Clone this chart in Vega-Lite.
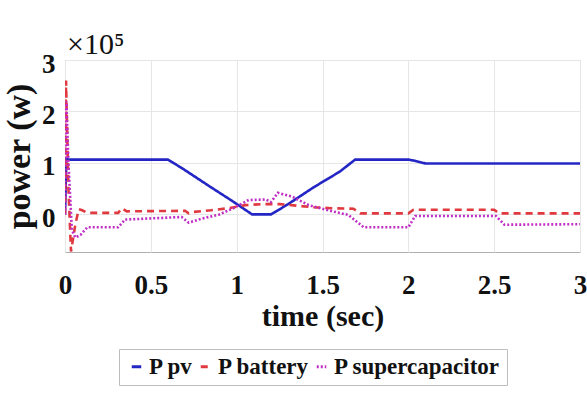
{
  "$schema": "https://vega.github.io/schema/vega-lite/v6.json",
  "autosize": {"type": "none"},
  "width": 515,
  "height": 192,
  "padding": {"left": 65, "top": 60, "right": 7, "bottom": 141},
  "background": "white",
  "title": {"text": "×10⁵", "anchor": "start", "frame": "group", "font": "Liberation Serif", "fontSize": 30, "fontWeight": "normal", "color": "#111", "offset": 4, "dx": 2, "dy": 14},
  "config": {
    "view": {"stroke": "#b0b0b0", "strokeWidth": 1},
    "axis": {"labelFont": "Liberation Serif", "labelFontWeight": "bold", "labelColor": "#111", "titleFont": "Liberation Serif", "titleFontWeight": "bold", "titleColor": "#111", "gridColor": "#e6e6e6", "domain": false, "ticks": false}
  },
  "data": {"values": [
    {"t": 0, "v": 0, "s": "P pv"},
    {"t": 0.008, "v": 1.07, "s": "P pv"},
    {"t": 0.03, "v": 1.065, "s": "P pv"},
    {"t": 0.6, "v": 1.065, "s": "P pv"},
    {"t": 0.69, "v": 0.88, "s": "P pv"},
    {"t": 0.84, "v": 0.55, "s": "P pv"},
    {"t": 0.97, "v": 0.27, "s": "P pv"},
    {"t": 1.09, "v": 0.0, "s": "P pv"},
    {"t": 1.2, "v": 0.0, "s": "P pv"},
    {"t": 1.3, "v": 0.2, "s": "P pv"},
    {"t": 1.45, "v": 0.53, "s": "P pv"},
    {"t": 1.6, "v": 0.83, "s": "P pv"},
    {"t": 1.69, "v": 1.065, "s": "P pv"},
    {"t": 2.0, "v": 1.065, "s": "P pv"},
    {"t": 2.04, "v": 1.04, "s": "P pv"},
    {"t": 2.1, "v": 0.99, "s": "P pv"},
    {"t": 3.0, "v": 0.99, "s": "P pv"},

    {"t": 0, "v": 0, "s": "P battery"},
    {"t": 0.006, "v": 2.6, "s": "P battery"},
    {"t": 0.02, "v": 0.5, "s": "P battery"},
    {"t": 0.035, "v": -0.72, "s": "P battery"},
    {"t": 0.06, "v": -0.2, "s": "P battery"},
    {"t": 0.08, "v": 0.1, "s": "P battery"},
    {"t": 0.1, "v": 0.08, "s": "P battery"},
    {"t": 0.13, "v": 0.03, "s": "P battery"},
    {"t": 0.31, "v": 0.03, "s": "P battery"},
    {"t": 0.33, "v": 0.12, "s": "P battery"},
    {"t": 0.36, "v": 0.06, "s": "P battery"},
    {"t": 0.7, "v": 0.07, "s": "P battery"},
    {"t": 0.72, "v": 0.02, "s": "P battery"},
    {"t": 0.75, "v": 0.05, "s": "P battery"},
    {"t": 0.85, "v": 0.08, "s": "P battery"},
    {"t": 0.95, "v": 0.12, "s": "P battery"},
    {"t": 1.05, "v": 0.18, "s": "P battery"},
    {"t": 1.15, "v": 0.2, "s": "P battery"},
    {"t": 1.25, "v": 0.2, "s": "P battery"},
    {"t": 1.35, "v": 0.17, "s": "P battery"},
    {"t": 1.45, "v": 0.14, "s": "P battery"},
    {"t": 1.55, "v": 0.12, "s": "P battery"},
    {"t": 1.68, "v": 0.11, "s": "P battery"},
    {"t": 1.72, "v": 0.02, "s": "P battery"},
    {"t": 2.0, "v": 0.02, "s": "P battery"},
    {"t": 2.03, "v": 0.09, "s": "P battery"},
    {"t": 2.5, "v": 0.09, "s": "P battery"},
    {"t": 2.53, "v": 0.02, "s": "P battery"},
    {"t": 3.0, "v": 0.02, "s": "P battery"},

    {"t": 0, "v": 0, "s": "P supercapacitor"},
    {"t": 0.008, "v": 2.2, "s": "P supercapacitor"},
    {"t": 0.02, "v": 1.0, "s": "P supercapacitor"},
    {"t": 0.04, "v": -0.3, "s": "P supercapacitor"},
    {"t": 0.06, "v": -0.45, "s": "P supercapacitor"},
    {"t": 0.09, "v": -0.4, "s": "P supercapacitor"},
    {"t": 0.13, "v": -0.25, "s": "P supercapacitor"},
    {"t": 0.31, "v": -0.25, "s": "P supercapacitor"},
    {"t": 0.35, "v": -0.1, "s": "P supercapacitor"},
    {"t": 0.68, "v": -0.05, "s": "P supercapacitor"},
    {"t": 0.72, "v": -0.16, "s": "P supercapacitor"},
    {"t": 0.8, "v": -0.08, "s": "P supercapacitor"},
    {"t": 0.9, "v": 0.0, "s": "P supercapacitor"},
    {"t": 0.98, "v": 0.12, "s": "P supercapacitor"},
    {"t": 1.07, "v": 0.28, "s": "P supercapacitor"},
    {"t": 1.17, "v": 0.29, "s": "P supercapacitor"},
    {"t": 1.2, "v": 0.24, "s": "P supercapacitor"},
    {"t": 1.24, "v": 0.42, "s": "P supercapacitor"},
    {"t": 1.32, "v": 0.35, "s": "P supercapacitor"},
    {"t": 1.42, "v": 0.18, "s": "P supercapacitor"},
    {"t": 1.52, "v": 0.09, "s": "P supercapacitor"},
    {"t": 1.65, "v": -0.01, "s": "P supercapacitor"},
    {"t": 1.74, "v": -0.25, "s": "P supercapacitor"},
    {"t": 2.0, "v": -0.25, "s": "P supercapacitor"},
    {"t": 2.04, "v": -0.03, "s": "P supercapacitor"},
    {"t": 2.51, "v": -0.03, "s": "P supercapacitor"},
    {"t": 2.56, "v": -0.2, "s": "P supercapacitor"},
    {"t": 3.0, "v": -0.19, "s": "P supercapacitor"}
  ]},
  "mark": {"type": "line", "strokeWidth": 2.6, "clip": true},
  "encoding": {
    "x": {"field": "t", "type": "quantitative", "scale": {"domain": [0, 3], "nice": false},
      "axis": {"values": [0, 0.5, 1, 1.5, 2, 2.5, 3], "format": "~g", "title": "time (sec)", "labelFontSize": 27, "labelPadding": 20, "titleFontSize": 30, "titlePadding": 3, "labelFlush": false}},
    "y": {"field": "v", "type": "quantitative", "scale": {"domain": [-0.73, 3], "nice": false, "zero": false},
      "axis": {"values": [0, 1, 2, 3], "format": "d", "title": "power (w)", "labelFontSize": 27, "labelPadding": 10, "labelOffset": 4, "titleFontSize": 34, "titlePadding": 5, "labelFlush": false}},
    "color": {"field": "s", "type": "nominal",
      "scale": {"domain": ["P pv", "P battery", "P supercapacitor"], "range": ["#2326c4", "#e0393f", "#c02ec6"]},
      "legend": {"title": null, "orient": "none", "legendX": 54, "legendY": 289, "direction": "horizontal", "labelFont": "Liberation Serif", "labelFontWeight": "bold", "labelFontSize": 23, "labelColor": "#111", "labelLimit": 0, "strokeColor": "#bdbdbd", "padding": 6, "columnPadding": 0, "symbolType": "stroke", "symbolSize": 90, "symbolStrokeWidth": 3, "labelOffset": 1}},
    "strokeDash": {"field": "s", "type": "nominal",
      "scale": {"domain": ["P pv", "P battery", "P supercapacitor"], "range": [[1, 0], [7, 5], [2, 2]]},
      "legend": null}
  }
}
